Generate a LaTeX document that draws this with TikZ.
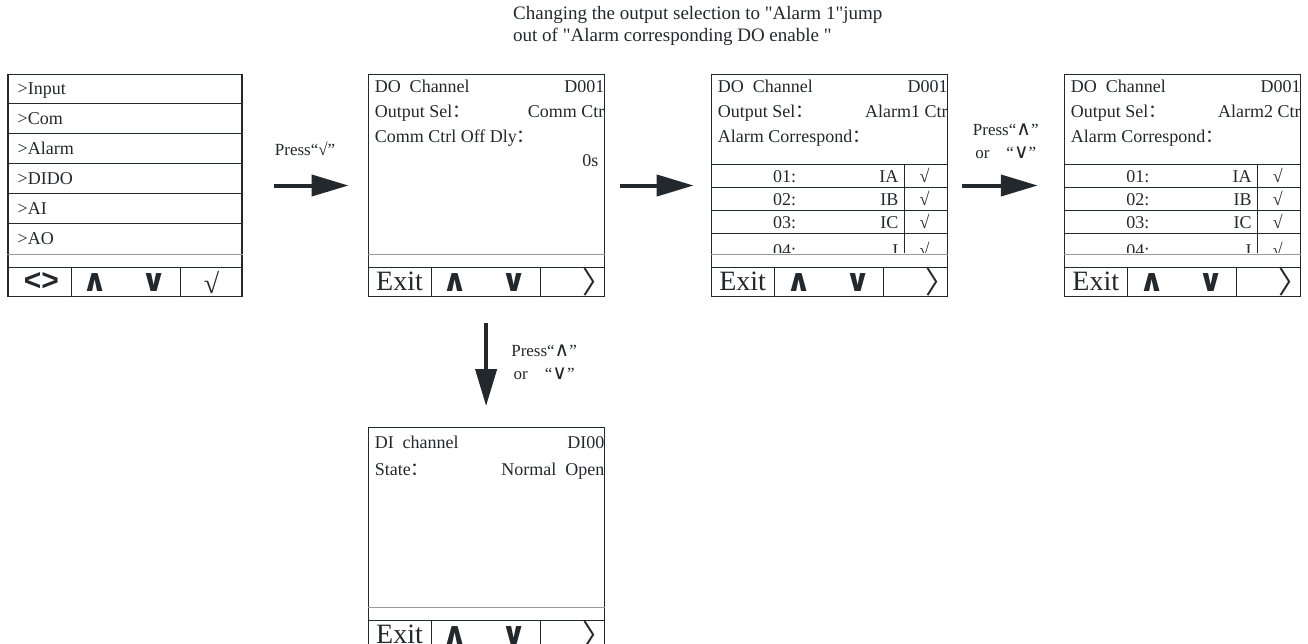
\documentclass[tikz,border=0pt]{standalone}
\usepackage{fontspec}
\setmainfont{Liberation Serif}[Ligatures=TeXOff]
\newfontfamily\cjk{Noto Sans CJK SC}
\newfontfamily\symfont{DejaVu Sans}
\newfontfamily\keyfont{Liberation Sans}
\usetikzlibrary{arrows.meta,positioning,calc}
\definecolor{inkdark}{HTML}{23282D}
\definecolor{rulegray}{HTML}{9A9A9A}
\newcommand{\fcolon}{{\cjk ：}}
\newcommand{\thinkey}[1]{{\symfont\fontsize{20}{20}\selectfont #1}}
\tikzset{
  screenbox/.style={draw=inkdark,line width=1.1pt,minimum width=236pt,minimum height=222pt,inner sep=0pt},
  screenline/.style={draw=inkdark,line width=0.8pt},
  faintline/.style={draw=rulegray,line width=0.6pt},
  screentext/.style={font=\fontsize{18}{20}\selectfont,text=inkdark,inner sep=0pt},
  exittext/.style={font=\fontsize{28}{30}\selectfont,text=inkdark,inner sep=0pt},
  keytext/.style={font=\symfont\bfseries\fontsize{31}{31}\selectfont,text=inkdark,inner sep=0pt},
  steparrow/.style={-{Triangle[length=37pt,width=21pt]},line width=4pt,draw=inkdark},
  presslabel/.style={font=\fontsize{17}{23}\selectfont,text=inkdark,align=center,inner sep=0pt}
}

\begin{document}
\begin{tikzpicture}[x=1pt,y=1pt]
  \useasboundingbox (0,0) rectangle (1308,-643);
  % screens
  \node[screenbox,minimum width=234pt] (menu) at (125,-185.5) {};
  \node[screenbox,right=125pt of menu] (doA) {};
  \node[screenbox,right=106pt of doA] (alarmA) {};
  \node[screenbox,right=116pt of alarmA] (alarmB) {};
  \node[screenbox,below=130pt of doA] (di) {};
  % key rows
  \foreach \scr in {menu,doA,alarmA,alarmB,di}{
    \draw[faintline] ($(\scr.south west)+(0,43)$) -- ($(\scr.south east)+(0,43)$);
    \draw[screenline] ($(\scr.south west)+(0,30)$) -- ($(\scr.south east)+(0,30)$);
    \draw[screenline] ($(\scr.south west)+(64,0)$) -- ++(0,30);
    \draw[screenline] ($(\scr.south west)+(173,0)$) -- ++(0,30);
    \node[keytext] (\scr-up) at ($(\scr.south west)+(88,15)$) {∧};
    \node[keytext] (\scr-down) at ($(\scr.south west)+(147,15)$) {∨};
  }
  \foreach \scr in {doA,alarmA,alarmB,di}{
    \node[exittext] (\scr-exit) at ($(\scr.south west)+(32,16)$) {Exit};
    \node[exittext,font=\cjk\fontsize{30}{30}\selectfont] (\scr-next) at ($(\scr.south west)+(230,15)$) {〉};
  }
  \node[keytext,font=\keyfont\bfseries\fontsize{30}{30}\selectfont] (menu-move) at ($(menu.south west)+(34,16)$) {<>};
  \node[exittext] (menu-ok) at ($(menu.south west)+(204,15)$) {√};
  % main menu
  \foreach \i in {1,...,5}
    \draw[screenline] ($(menu.north west)+(0,{1-30*\i})$) -- ($(menu.north east)+(0,{1-30*\i})$);
  \foreach \item [count=\i] in {Input,Com,Alarm,DIDO,AI,AO}
    \node[screentext,anchor=base west] (menu-\i) at ($(menu.north west)+(10,{-21-30*(\i-1)})$) {>\item};
  % DO channel, comm control
  \node[screentext,anchor=base west] (doA-title) at ($(doA.north west)+(7,-19)$) {DO\enspace Channel};
  \node[screentext,anchor=base east] (doA-id) at ($(doA.north east)+(0,-19)$) {D001};
  \node[screentext,anchor=base west] (doA-sel) at ($(doA.north west)+(7,-44)$) {Output Sel\fcolon};
  \node[screentext,anchor=base east] (doA-mode) at ($(doA.north east)+(0,-44)$) {Comm Ctr};
  \node[screentext,anchor=base west] (doA-dly) at ($(doA.north west)+(7,-69)$) {Comm Ctrl Off Dly\fcolon};
  \node[screentext,anchor=base east] (doA-val) at ($(doA.north east)+(-6,-93)$) {0s};
  % DO channel, alarm control
  \foreach \scr/\sel in {alarmA/Alarm1,alarmB/Alarm2}{
    \node[screentext,anchor=base west] (\scr-title) at ($(\scr.north west)+(7,-19)$) {DO\enspace Channel};
    \node[screentext,anchor=base east] (\scr-id) at ($(\scr.north east)+(0,-19)$) {D001};
    \node[screentext,anchor=base west] (\scr-sel) at ($(\scr.north west)+(7,-44)$) {Output Sel\fcolon};
    \node[screentext,anchor=base east] (\scr-mode) at ($(\scr.north east)+(0,-44)$) {\sel\ Ctr};
    \node[screentext,anchor=base west] (\scr-corr) at ($(\scr.north west)+(7,-69)$) {Alarm Correspond\fcolon};
    \foreach \r in {0,...,3}
      \draw[screenline] ($(\scr.north west)+(0,{-90-23*\r})$) -- ($(\scr.north east)+(0,{-90-23*\r})$);
    \draw[screenline] ($(\scr.north west)+(194,-90)$) -- ($(\scr.north west)+(194,-179)$);
    \begin{scope}
      \clip ($(\scr.north west)+(0,-90)$) rectangle ($(\scr.north east)+(0,-179)$);
      \foreach \num/\sig/\dy [count=\r] in {01/IA/109,02/IB/132,03/IC/155,04/I/183}{
        \node[screentext,anchor=base] (\scr-num\r) at ($(\scr.north west)+(74,-\dy)$) {\num:};
        \node[screentext,anchor=base east] (\scr-sig\r) at ($(\scr.north west)+(188,-\dy)$) {\sig};
        \node[screentext,anchor=base] (\scr-tick\r) at ($(\scr.north west)+(214,-\dy)$) {√};
      }
    \end{scope}
  }
  % DI channel
  \node[screentext,anchor=base west] (di-title) at ($(di.north west)+(7,-21)$) {DI\enspace channel};
  \node[screentext,anchor=base east] (di-id) at ($(di.north east)+(0,-21)$) {DI00};
  \node[screentext,anchor=base west] (di-state) at ($(di.north west)+(7,-48)$) {State\fcolon};
  \node[screentext,anchor=base east] (di-val) at ($(di.north east)+(0,-48)$) {Normal\enspace Open};
  % arrows and notes
  \draw[steparrow,shorten <=31pt,shorten >=19pt] (menu.east) -- (doA.west);
  \draw[steparrow,shorten <=15pt,shorten >=17pt] (doA.east) -- (alarmA.west);
  \draw[steparrow,shorten <=14pt,shorten >=26pt] (alarmA.east) -- (alarmB.west);
  \draw[steparrow,shorten <=26pt,shorten >=21pt] (doA.south) -- (di.north);
  \node[presslabel] (presscheck) at ($(menu.east)!0.5!(doA.west)+(0,37)$) {Press“√”};
  \node[presslabel] (pressnext) at ($(alarmA.east)!0.5!(alarmB.west)+(0,44)$)
    {Press“\thinkey{∧}”\\or\quad“\thinkey{∨}”};
  \node[presslabel,anchor=west] (pressdown) at ($(doA.south)!0.5!(di.north)+(25,0)$)
    {Press“\thinkey{∧}”\\or\quad“\thinkey{∨}”};
  \node[presslabel,align=left,anchor=north west,font=\fontsize{19}{22}\selectfont] (changenote) at (513,-6)
    {Changing the output selection to "Alarm 1"jump\\out of "Alarm corresponding DO enable "};
\end{tikzpicture}
\end{document}
